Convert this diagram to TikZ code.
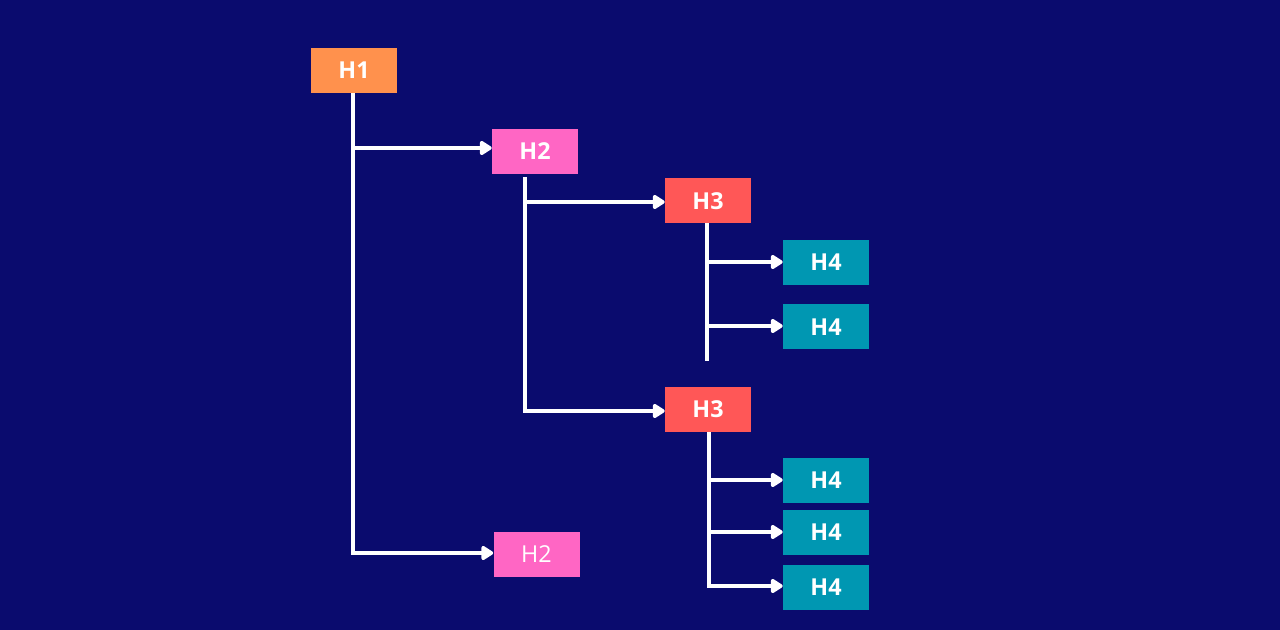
\documentclass[tikz,border=0pt]{standalone}
\usepackage{fontspec}
\setmainfont{Open Sans}
\usetikzlibrary{arrows.meta}
\definecolor{bg}{HTML}{0A0B6E}
\definecolor{corange}{HTML}{FF914D}
\definecolor{cpink}{HTML}{FF66C4}
\definecolor{cred}{HTML}{FF5757}
\definecolor{cteal}{HTML}{0097B2}
\begin{document}
\begin{tikzpicture}[x=0.75pt,y=-0.75pt,
  box/.style={rectangle,minimum width=64.5pt,minimum height=33.75pt,inner sep=0pt,
    text=white,font=\fontsize{17.5}{20}\selectfont\bfseries},
  wire/.style={draw=white,line width=2.5pt,line join=miter},
  arr/.style={wire,-{Triangle[length=10pt,width=12pt,round]}}]
\path[fill=bg] (0,0) rectangle (1280,630);
\useasboundingbox (0,0) rectangle (1280,630);
% boxes
\node[box,fill=corange] (h1) at (354,70.5) {H1};
\node[box,fill=cpink] (h2a) at (535,151.5) {H2};
\node[box,fill=cpink,font=\fontsize{17.5}{20}\selectfont] (h2b) at (536.5,554.5) {H2};
\node[box,fill=cred] (h3a) at (708,201) {H3};
\node[box,fill=cred] (h3b) at (708,409.5) {H3};
\node[box,fill=cteal] (h4a) at (826,262.5) {H4};
\node[box,fill=cteal] (h4b) at (826,327) {H4};
\node[box,fill=cteal] (h4c) at (826,480.5) {H4};
\node[box,fill=cteal] (h4d) at (826,532.5) {H4};
\node[box,fill=cteal] (h4e) at (826,587.5) {H4};
% trunk coordinates
\coordinate (t1) at (353,93);
\coordinate (t2) at (525,177);
\coordinate (t3) at (707,223);
\coordinate (t3end) at (707,361);
\coordinate (t4) at (709,432);
% H1 trunk
\draw[arr] (t1) |- (h2b.west |- 0,553);
\draw[arr] (t1 |- 0,148) -- (h2a.west |- 0,148);
% H2 trunk
\draw[arr] (t2) |- (h3b.west |- 0,411);
\draw[arr] (t2 |- 0,202) -- (h3a.west |- 0,202);
% H3 top trunk
\draw[wire] (t3) -- (t3end);
\draw[arr] (t3 |- 0,262) -- (h4a.west |- 0,262);
\draw[arr] (t3 |- 0,326) -- (h4b.west |- 0,326);
% H3 bottom trunk
\draw[arr] (t4) |- (h4e.west |- 0,586);
\draw[arr] (t4 |- 0,480) -- (h4c.west |- 0,480);
\draw[arr] (t4 |- 0,532) -- (h4d.west |- 0,532);
\end{tikzpicture}
\end{document}
